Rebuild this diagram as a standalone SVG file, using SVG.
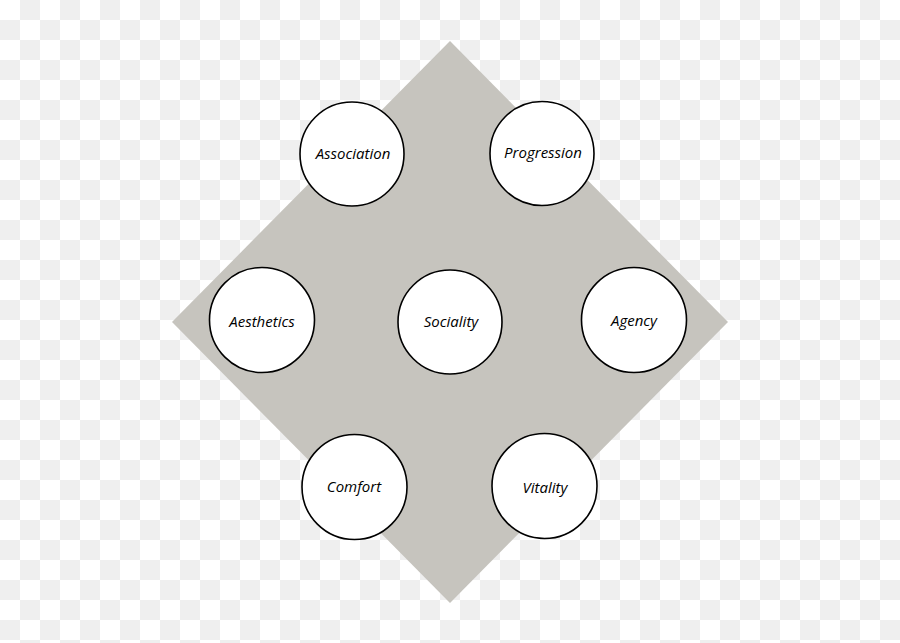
<svg xmlns="http://www.w3.org/2000/svg" width="900" height="643" viewBox="0 0 900 643">
<defs>
<pattern id="checker" x="0" y="0" width="40" height="40" patternUnits="userSpaceOnUse">
<rect width="40" height="40" fill="#ffffff"/>
<rect x="20" y="0" width="20" height="20" fill="#efefef"/>
<rect x="0" y="20" width="20" height="20" fill="#efefef"/>
</pattern>
<style>
.node circle { fill: #ffffff; stroke: #000000; stroke-width: 1.6; }
.node text { font-family: "Open Sans", "Noto Sans", "Liberation Sans", sans-serif; font-style: italic; font-size: 15px; fill: #000000; text-anchor: middle; }
</style>
</defs>
<rect width="900" height="643" fill="url(#checker)"/>
<polygon id="diamond" points="450,41 728,322 450,603 172,322" fill="#c6c4be"/>
<g id="connectors"></g>
<g id="association" class="node"><circle cx="352" cy="154" r="52"/><text x="353" y="159">Association</text></g>
<g id="progression" class="node"><circle cx="542" cy="153.5" r="52"/><text x="543" y="158">Progression</text></g>
<g id="aesthetics" class="node"><circle cx="262" cy="320" r="52.5"/><text x="262" y="327">Aesthetics</text></g>
<g id="sociality" class="node"><circle cx="450" cy="322" r="52"/><text x="451" y="327">Sociality</text></g>
<g id="agency" class="node"><circle cx="634" cy="320" r="52.5"/><text x="634" y="326">Agency</text></g>
<g id="comfort" class="node"><circle cx="354.5" cy="487" r="52.5"/><text x="354" y="492">Comfort</text></g>
<g id="vitality" class="node"><circle cx="544.5" cy="486" r="52.5"/><text x="545" y="493">Vitality</text></g>
</svg>
